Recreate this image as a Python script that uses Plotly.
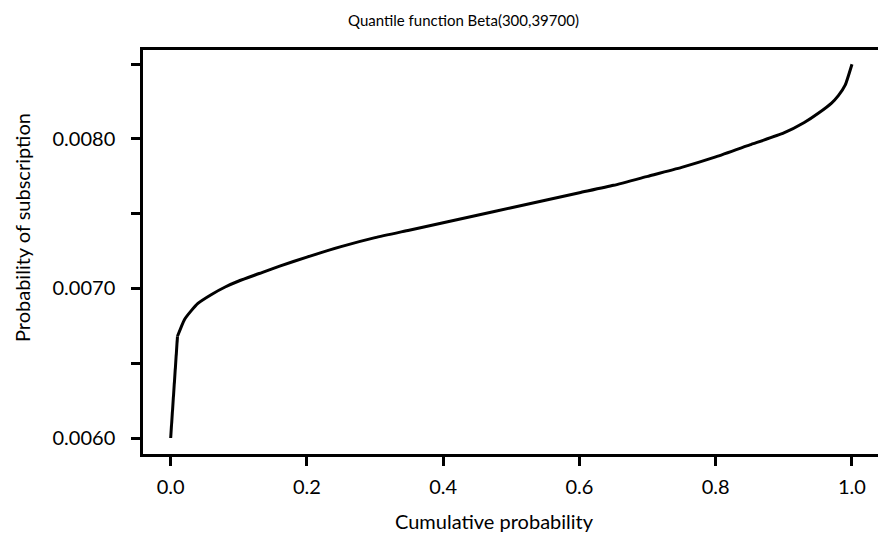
import plotly.graph_objects as go

# Cumulative probability (x) and quantile values (y)
cum_prob = [0.0, 0.01, 0.02, 0.03, 0.04, 0.06, 0.08, 0.10, 0.13, 0.16, 0.20, 0.25,
            0.30, 0.35, 0.40, 0.45, 0.50, 0.55, 0.60, 0.65, 0.70, 0.75, 0.80,
            0.85, 0.90, 0.93, 0.95, 0.97, 0.98, 0.99, 1.0]
quantile = [0.00600, 0.00668, 0.00679, 0.00685, 0.00690, 0.00696, 0.00701, 0.00705,
            0.00710, 0.00715, 0.00721, 0.00728, 0.00734, 0.00739, 0.00744, 0.00749,
            0.00754, 0.00759, 0.00764, 0.00769, 0.00775, 0.00781, 0.00788,
            0.00796, 0.00804, 0.00811, 0.00817, 0.00824, 0.00829, 0.00836, 0.00850]

x_ticks = [0.0, 0.2, 0.4, 0.6, 0.8, 1.0]
x_tick_labels = ["0.0", "0.2", "0.4", "0.6", "0.8", "1.0"]
y_ticks = [0.0060, 0.0065, 0.0070, 0.0075, 0.0080, 0.0085]
y_tick_labels = ["0.0060", "", "0.0070", "", "0.0080", ""]

title_text = "Quantile function Beta(300,39700)"
x_title = "Cumulative probability"
y_title = "Probability of subscription"

FONT = "Lato, 'Open Sans', sans-serif"

fig = go.Figure()
# steep first step kept straight, remainder drawn smooth
fig.add_trace(go.Scatter(x=cum_prob[:2], y=quantile[:2], mode="lines",
                         line=dict(color="black", width=3), showlegend=False))
fig.add_trace(go.Scatter(x=cum_prob[1:], y=quantile[1:], mode="lines",
                         line=dict(color="black", width=3, shape="spline", smoothing=0.5),
                         showlegend=False))

fig.update_layout(
    width=878, height=534,
    margin=dict(l=143, r=0, t=50, b=80),
    paper_bgcolor="white", plot_bgcolor="white",
    font=dict(family=FONT, color="black", size=20),
    showlegend=False,
)
fig.update_xaxes(
    range=[-0.0406, 1.0382], tickvals=x_ticks, ticktext=x_tick_labels,
    showgrid=False, zeroline=False, showline=True, linecolor="black", linewidth=2.5,
    mirror=True, ticks="outside", ticklen=9, tickwidth=2.5, tickcolor="black",
    tickfont=dict(size=20, family=FONT), ticklabelstandoff=4,
)
fig.update_yaxes(
    range=[0.005893, 0.008595], tickvals=y_ticks, ticktext=y_tick_labels,
    showgrid=False, zeroline=False, showline=True, linecolor="black", linewidth=2.5,
    ticks="outside", ticklen=9, tickwidth=2.5, tickcolor="black",
    tickfont=dict(size=20, family=FONT), ticklabelstandoff=12,
)

fig.add_annotation(text=title_text, xref="paper", yref="paper",
                   x=(463 - 143) / 735, y=1 + 30 / 404, xanchor="center", yanchor="middle",
                   showarrow=False, font=dict(size=15, family=FONT))
fig.add_annotation(text=x_title, xref="paper", yref="paper",
                   x=(494 - 143) / 735, y=-(521 - 454) / 404, xanchor="center", yanchor="middle",
                   showarrow=False, font=dict(size=20, family=FONT))
fig.add_annotation(text=y_title, xref="paper", yref="paper",
                   x=-(143 - 22) / 735, y=(454 - 228) / 404, xanchor="center", yanchor="middle",
                   textangle=-90, showarrow=False, font=dict(size=20, family=FONT))

fig.write_html("out.html", config={"displayModeBar": False},
               post_script="document.body.style.margin='0';")
